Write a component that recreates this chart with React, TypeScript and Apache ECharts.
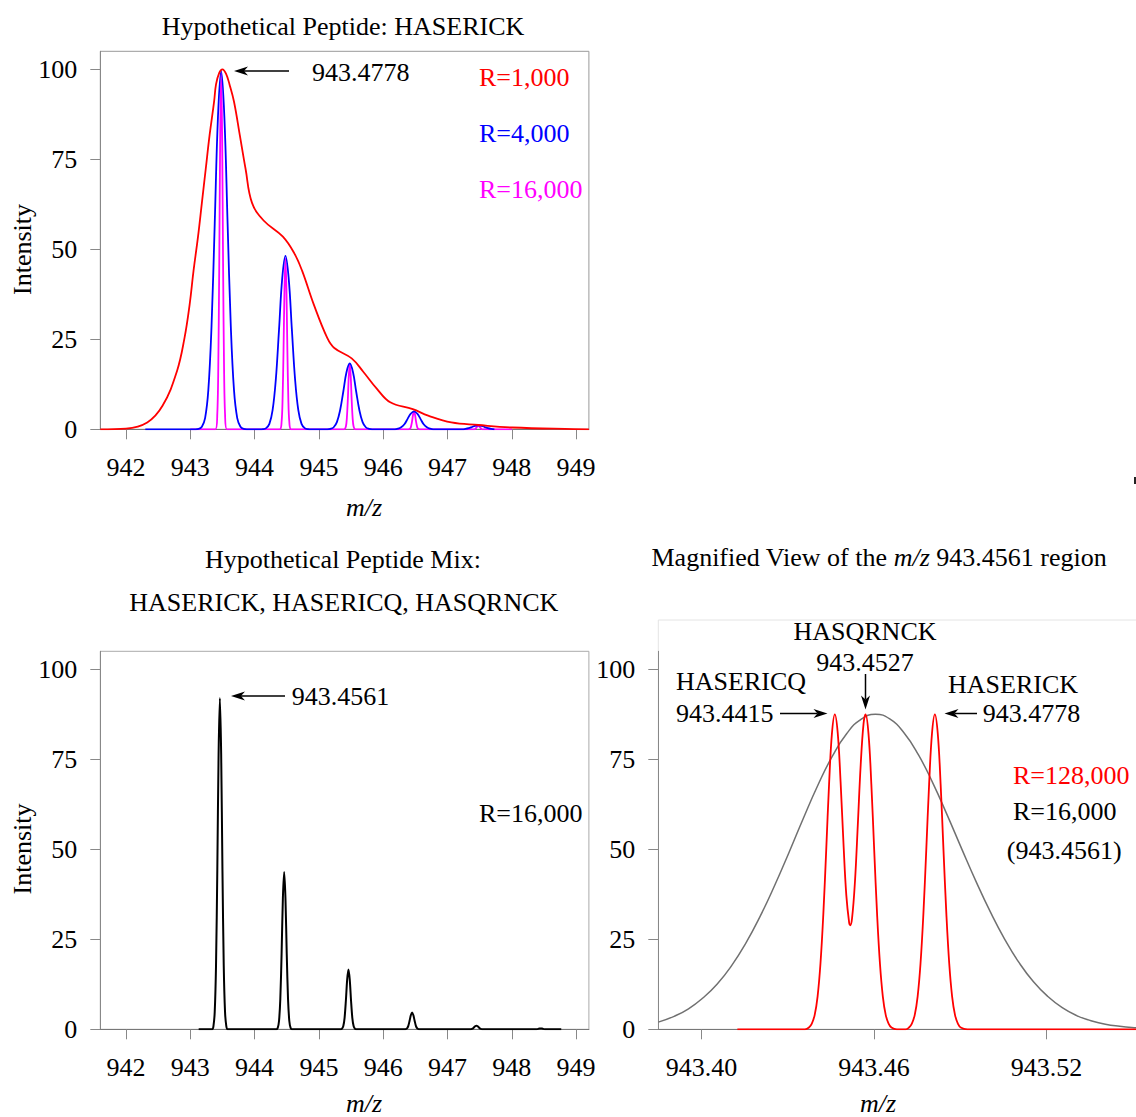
import React, { useEffect, useRef } from "react";
import * as echarts from "echarts";

const FONT = "Liberation Serif";

// tick values
const xTicksSpectrum = [942, 943, 944, 945, 946, 947, 948, 949];
const xTicksZoom = [943.4, 943.46, 943.52];
const yTicks = [0, 25, 50, 75, 100];

// Top panel: HASERICK at three resolutions
const red1000: [number, number][] = [
  [941.6, 0], [942.0, 0.2], [942.33, 1.9], [942.57, 6.6], [942.79, 16], [942.91, 25.4],
  [942.99, 34.7], [943.05, 44], [943.12, 53.5], [943.18, 62.9], [943.24, 72.3], [943.3, 81.7],
  [943.37, 91], [943.4, 95.8], [943.45, 99], [943.5, 100], [943.555, 98.8], [943.61, 95.8], [943.68, 91],
  [943.77, 81.7], [943.86, 72.3], [943.96, 62.9], [944.14, 58], [944.44, 53.5], [944.62, 48.8],
  [944.74, 44], [944.92, 34.7], [945.13, 25.4], [945.24, 22.6], [945.51, 19.7], [945.69, 16],
  [945.9, 11.3], [946.11, 7.5], [946.46, 5.6], [946.7, 3.8], [947.06, 1.9], [947.48, 1.2],
  [948.01, 0.5], [948.96, 0.05], [949.2, 0],
];

const blue4000: [number, number][] = [
  [942.3, 0], [943.08, 0], [943.13, 0.1], [943.18, 0.7], [943.23, 3.1], [943.28, 10.8], [943.33, 28.6],
  [943.38, 57.2], [943.43, 86.7], [943.48, 99.5], [943.53, 86.7], [943.58, 57.2], [943.63, 28.6],
  [943.68, 10.8], [943.73, 3.1], [943.78, 0.7], [943.83, 0.1], [943.88, 0],
  [944.08, 0], [944.13, 0.05], [944.18, 0.33], [944.23, 1.5], [944.28, 5.3], [944.33, 13.8],
  [944.38, 27.7], [944.43, 42.0], [944.48, 48.2], [944.53, 42.0], [944.58, 27.7], [944.63, 13.8],
  [944.68, 5.3], [944.73, 1.5], [944.78, 0.33], [944.83, 0.05], [944.88, 0],
  [945.13, 0], [945.18, 0.12], [945.23, 0.57], [945.28, 2.0], [945.33, 5.3], [945.38, 10.5],
  [945.43, 15.9], [945.48, 18.3], [945.53, 15.9], [945.58, 10.5], [945.63, 5.3], [945.68, 2.0],
  [945.73, 0.57], [945.78, 0.12], [945.83, 0],
  [946.18, 0], [946.23, 0.16], [946.28, 0.55], [946.33, 1.4], [946.38, 2.9], [946.43, 4.35],
  [946.48, 5.0], [946.53, 4.35], [946.58, 2.9], [946.63, 1.4], [946.68, 0.55], [946.73, 0.16], [946.78, 0],
  [947.23, 0], [947.28, 0.12], [947.33, 0.32], [947.38, 0.63], [947.43, 0.96], [947.48, 1.1],
  [947.53, 0.96], [947.58, 0.63], [947.63, 0.32], [947.68, 0.12], [947.73, 0],
];

const magenta16000: [number, number][] = [
  [943.0, 0], [943.39, 0], [943.42, 4.4], [943.435, 17.0], [943.45, 45.3], [943.465, 81.5], [943.48, 99],
  [943.495, 81.5], [943.51, 45.3], [943.525, 17.0], [943.54, 4.4], [943.57, 0],
  [944.39, 0], [944.42, 2.1], [944.435, 8.2], [944.45, 21.8], [944.465, 39.1], [944.48, 47.5],
  [944.495, 39.1], [944.51, 21.8], [944.525, 8.2], [944.54, 2.1], [944.57, 0],
  [945.39, 0], [945.42, 0.8], [945.435, 3.1], [945.45, 8.2], [945.465, 14.8], [945.48, 18],
  [945.495, 14.8], [945.51, 8.2], [945.525, 3.1], [945.54, 0.8], [945.57, 0],
  [946.39, 0], [946.42, 0.2], [946.435, 0.9], [946.45, 2.3], [946.465, 4.1], [946.48, 5],
  [946.495, 4.1], [946.51, 2.3], [946.525, 0.9], [946.54, 0.2], [946.57, 0],
  [947.42, 0], [947.45, 0.46], [947.465, 0.82], [947.48, 1], [947.495, 0.82], [947.51, 0.46],
  [947.54, 0], [948.0, 0],
];

// Bottom-left panel: peptide mix at R=16,000
const mix16000: [number, number][] = [
  [943.13, 0], [943.34, 0], [943.36, 0.9], [943.38, 4.9], [943.4, 17.7], [943.42, 44.2], [943.44, 76.5],
  [943.46, 92], [943.48, 76.5], [943.5, 44.2], [943.52, 17.7], [943.54, 4.9], [943.56, 0.9], [943.58, 0],
  [944.34, 0], [944.36, 0.4], [944.38, 2.3], [944.4, 8.4], [944.42, 21.0], [944.44, 36.4], [944.46, 43.7],
  [944.48, 36.4], [944.5, 21.0], [944.52, 8.4], [944.54, 2.3], [944.56, 0.4], [944.58, 0],
  [945.34, 0], [945.36, 0.17], [945.38, 0.9], [945.4, 3.2], [945.42, 8.0], [945.44, 13.8], [945.46, 16.6],
  [945.48, 13.8], [945.5, 8.0], [945.52, 3.2], [945.54, 0.9], [945.56, 0.17], [945.58, 0],
  [946.33, 0], [946.35, 0.05], [946.37, 0.25], [946.39, 0.9], [946.41, 2.3], [946.43, 3.9], [946.45, 4.7],
  [946.47, 3.9], [946.49, 2.3], [946.51, 0.9], [946.53, 0.25], [946.55, 0.05], [946.57, 0],
  [947.35, 0], [947.37, 0.05], [947.39, 0.19], [947.41, 0.48], [947.43, 0.83], [947.45, 1.0],
  [947.47, 0.83], [947.49, 0.48], [947.51, 0.19], [947.53, 0.05], [947.55, 0],
  [948.37, 0], [948.39, 0.05], [948.41, 0.12], [948.43, 0.21], [948.45, 0.25], [948.47, 0.21],
  [948.49, 0.12], [948.51, 0.05], [948.53, 0], [948.77, 0],
];

// Bottom-right panel: magnified view
const gray16000: [number, number][] = [
  [943.385, 2.0], [943.3905, 3.6], [943.3955, 5.7], [943.4005, 8.7], [943.4055, 12.6], [943.4105, 17.7],
  [943.4155, 24.0], [943.4205, 31.5], [943.4255, 40.0], [943.4305, 49.2], [943.4355, 58.7],
  [943.4405, 67.8], [943.4455, 75.8], [943.4505, 82.1], [943.4555, 86.1], [943.4605, 87.5],
  [943.4655, 86.2], [943.4705, 82.3], [943.4755, 76.2], [943.4805, 68.4], [943.4855, 59.5],
  [943.4905, 50.2], [943.4955, 41.1], [943.5005, 32.6], [943.5055, 25.0], [943.5105, 18.5],
  [943.5155, 13.2], [943.5205, 9.1], [943.5255, 6.0], [943.5305, 3.8], [943.5355, 2.4],
  [943.5405, 1.4], [943.5455, 0.83], [943.5505, 0.46], [943.555, 0.27],
];

const red128000: [number, number][] = [
  [943.4125, 0], [943.436, 0], [943.4374, 0.5], [943.4384, 1.6], [943.4394, 4.0], [943.4404, 9.1],
  [943.4414, 18.2], [943.4424, 32.0], [943.4434, 49.7], [943.4444, 68.1], [943.4454, 82.2],
  [943.4464, 87.5], [943.4474, 82.4], [943.4484, 68.8], [943.4494, 51.8], [943.4504, 37.2],
  [943.4514, 29.5], [943.45175, 28.9], [943.4524, 30.9], [943.4534, 41.0], [943.4544, 56.9],
  [943.4554, 73.5], [943.4564, 85.0], [943.4571, 87.5], [943.4581, 82.2], [943.4591, 68.1],
  [943.4601, 49.7], [943.4611, 32.0], [943.4621, 18.2], [943.4631, 9.1], [943.4641, 4.0],
  [943.4651, 1.6], [943.4661, 0.5], [943.468, 0], [943.471, 0], [943.4722, 0.5], [943.4732, 1.6],
  [943.4742, 4.0], [943.4752, 9.1], [943.4762, 18.2], [943.4772, 32.0], [943.4782, 49.7],
  [943.4792, 68.1], [943.4802, 82.2], [943.4812, 87.5], [943.4822, 82.2], [943.4832, 68.1],
  [943.4842, 49.7], [943.4852, 32.0], [943.4862, 18.2], [943.4872, 9.1], [943.4882, 4.0],
  [943.4892, 1.6], [943.4902, 0.5], [943.4925, 0], [943.555, 0],
];

function xAxisDef(gridIndex: number, min: number, max: number, ticks: number[], digits: number) {
  return {
    type: "value",
    gridIndex,
    min,
    max,
    axisLine: { show: true, onZero: false, lineStyle: { color: "#777", width: 1 } },
    axisTick: { show: true, inside: false, length: 10, lineStyle: { color: "#888", width: 1 }, customValues: ticks },
    axisLabel: {
      show: true,
      customValues: ticks,
      margin: 25,
      color: "#000",
      fontSize: 26,
      fontFamily: FONT,
      fontWeight: "normal",
      formatter: (v: number) => v.toFixed(digits),
    },
    splitLine: { show: false },
  };
}

function yAxisDef(gridIndex: number) {
  return {
    type: "value",
    gridIndex,
    min: 0,
    max: 105,
    axisLine: { show: true, onZero: false, lineStyle: { color: "#888", width: 1 } },
    axisTick: { show: true, inside: false, length: 10, lineStyle: { color: "#888", width: 1 }, customValues: yTicks },
    axisLabel: {
      show: true,
      customValues: yTicks,
      margin: 23,
      color: "#000",
      fontSize: 26,
      fontFamily: FONT,
      fontWeight: "normal",
    },
    splitLine: { show: false },
  };
}

function txt(text: string, x: number, y: number, color = "#000", align = "left", extra: any = {}) {
  return {
    type: "text",
    z: 100,
    silent: true,
    ...extra,
    style: {
      text,
      x,
      y,
      fill: color,
      fontSize: 26,
      fontFamily: FONT,
      textAlign: align,
      align,
      verticalAlign: "middle",
      textVerticalAlign: "middle",
      ...(extra.style || {}),
    },
  };
}

function arrow(x1: number, y1: number, x2: number, y2: number) {
  const dx = x2 - x1;
  const dy = y2 - y1;
  const len = Math.hypot(dx, dy);
  const ux = dx / len;
  const uy = dy / len;
  const px = -uy;
  const py = ux;
  const L = 14;
  const W = 4.5;
  const N = 10;
  return [
    {
      type: "line",
      z: 100,
      silent: true,
      shape: { x1, y1, x2: x2 - ux * N, y2: y2 - uy * N },
      style: { stroke: "#000", lineWidth: 1.5 },
    },
    {
      type: "polygon",
      z: 100,
      silent: true,
      shape: {
        points: [
          [x2, y2],
          [x2 - ux * L + px * W, y2 - uy * L + py * W],
          [x2 - ux * N, y2 - uy * N],
          [x2 - ux * L - px * W, y2 - uy * L - py * W],
        ],
      },
      style: { fill: "#000" },
    },
  ];
}

export default function App() {
  const ref = useRef<HTMLDivElement>(null);

  useEffect(() => {
    const el = ref.current;
    if (!el) return;
    const chart = echarts.init(el, undefined, { renderer: "svg", width: 1136, height: 1117 });

    const lineSeries = (data: [number, number][], idx: number, color: string, width: number, smooth: any, z: number) => ({
      type: "line",
      xAxisIndex: idx,
      yAxisIndex: idx,
      data,
      symbol: "none",
      showSymbol: false,
      smooth,
      lineStyle: { color, width },
      z,
      silent: true,
    });

    const option: any = {
      animation: false,
      backgroundColor: "#fff",
      textStyle: { fontFamily: FONT, fontSize: 26, color: "#000" },
      grid: [
        { left: 100.3, top: 51.3, width: 488.6, height: 378, show: true, borderColor: "#999", borderWidth: 1, outerBoundsMode: "none" },
        { left: 100.3, top: 651.3, width: 488.6, height: 378, show: true, borderColor: "#aaa", borderWidth: 1, outerBoundsMode: "none" },
        { left: 658.3, top: 651.3, width: 488.75, height: 378, show: false, outerBoundsMode: "none" },
      ],
      xAxis: [
        xAxisDef(0, 941.6, 949.2, xTicksSpectrum, 0),
        xAxisDef(1, 941.6, 949.2, xTicksSpectrum, 0),
        xAxisDef(2, 943.385, 943.555, xTicksZoom, 2),
      ],
      yAxis: [yAxisDef(0), yAxisDef(1), yAxisDef(2)],
      series: [
        lineSeries(magenta16000, 0, "#ff00ff", 1.8, 0.3, 2),
        lineSeries(blue4000, 0, "#0000ff", 1.8, 0.4, 3),
        lineSeries(red1000, 0, "#ff0000", 1.8, 0.4, 4),
        lineSeries(mix16000, 1, "#000000", 2, 0.3, 2),
        lineSeries(gray16000, 2, "#707070", 1.5, 0.5, 2),
        lineSeries(red128000, 2, "#ff0000", 1.8, 0.4, 3),
      ],
      graphic: [
        // faint frame of the magnified panel
        {
          type: "rect",
          z: 0,
          silent: true,
          shape: { x: 658.3, y: 620, width: 520, height: 409 },
          style: { fill: "none", stroke: "#e4e4e4", lineWidth: 1 },
        },
        { type: "rect", z: 100, silent: true, shape: { x: 1134, y: 477, width: 2, height: 7 }, style: { fill: "#222" } },
        // titles
        txt("Hypothetical Peptide: HASERICK", 343, 26.4, "#000", "center"),
        txt("Hypothetical Peptide Mix:", 343, 559, "#000", "center"),
        txt("HASERICK, HASERICQ, HASQRNCK", 343.8, 602, "#000", "center"),
        {
          type: "text",
          z: 100,
          silent: true,
          style: {
            text: "{n|Magnified View of the }{i|m/z}{n| 943.4561 region}",
            x: 879,
            y: 557,
            textAlign: "center",
            align: "center",
            verticalAlign: "middle",
            textVerticalAlign: "middle",
            fontSize: 26,
            fontFamily: FONT,
            fill: "#000",
            rich: {
              n: { fontSize: 26, fontFamily: FONT, fill: "#000", color: "#000" },
              i: { fontSize: 26, fontFamily: FONT, fontStyle: "italic", fill: "#000", color: "#000" },
            },
          },
        },
        // axis names
        txt("m/z", 364, 507, "#000", "center", { style: { fontStyle: "italic" } }),
        txt("m/z", 364, 1103, "#000", "center", { style: { fontStyle: "italic" } }),
        txt("m/z", 878, 1103, "#000", "center", { style: { fontStyle: "italic" } }),
        txt("Intensity", 22, 249.5, "#000", "center", { rotation: Math.PI / 2, x: 22, y: 249.5, style: { x: 0, y: 0 } }),
        txt("Intensity", 22, 849, "#000", "center", { rotation: Math.PI / 2, x: 22, y: 849, style: { x: 0, y: 0 } }),
        // top-left annotations
        txt("943.4778", 312, 72.5),
        ...arrow(289, 71, 234, 71),
        txt("R=1,000", 479, 77, "#ff0000"),
        txt("R=4,000", 479, 133, "#0000ff"),
        txt("R=16,000", 479, 189.5, "#ff00ff"),
        // bottom-left annotations
        txt("943.4561", 291.7, 696),
        ...arrow(285, 696, 231, 696),
        txt("R=16,000", 479, 813),
        // bottom-right annotations
        txt("HASQRNCK", 865, 631, "#000", "center"),
        txt("943.4527", 865, 662, "#000", "center"),
        ...arrow(865.5, 674, 865.5, 709.5),
        txt("HASERICQ", 676, 681.7),
        txt("943.4415", 676, 713.4),
        ...arrow(780, 713.5, 827.5, 713.5),
        txt("HASERICK", 948, 684.6),
        txt("943.4778", 982.7, 713.4),
        ...arrow(977, 713.5, 944.5, 713.5),
        txt("R=128,000", 1013, 775, "#ff0000"),
        txt("R=16,000", 1013, 811.5),
        txt("(943.4561)", 1006.8, 850.6),
      ],
    };

    chart.setOption(option);
    return () => {
      chart.dispose();
    };
  }, []);

  return (
    <div
      ref={ref}
      style={{ position: "fixed", left: 0, top: 0, width: 1136, height: 1117, background: "#fff" }}
    />
  );
}
